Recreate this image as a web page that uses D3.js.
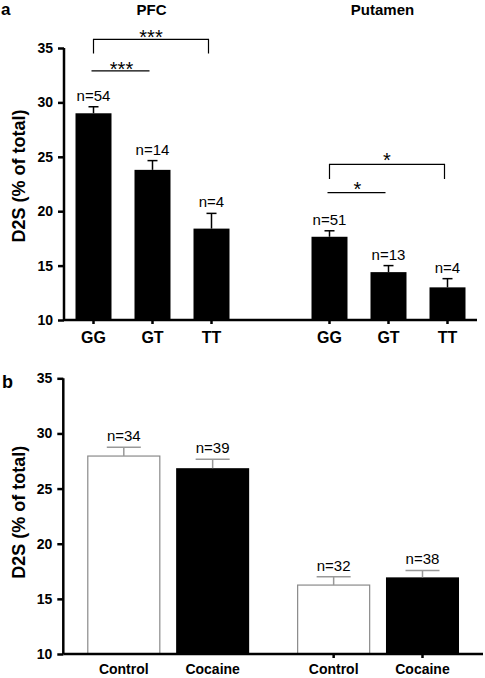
<!DOCTYPE html>
<html>
<head>
<meta charset="utf-8">
<script src="https://cdn.jsdelivr.net/npm/d3@7"></script>
<style>
  html, body { margin: 0; padding: 0; background: #fff; }
  text { font-family: "Liberation Sans", Arial, Helvetica, sans-serif; }
</style>
</head>
<body>
<svg id="chart" width="485" height="678"></svg>
<script>
// ---------- Data ----------
const genotypes = ["GG", "GT", "TT"];
const regions = ["PFC", "Putamen"];
const pfcMeans = [29.0, 23.8, 18.4];
const pfcSem = [0.6, 0.85, 1.4];
const pfcN = ["n=54", "n=14", "n=4"];
const putMeans = [17.65, 14.4, 13.0];
const putSem = [0.55, 0.6, 0.8];
const putN = ["n=51", "n=13", "n=4"];

const groupsB = ["Control", "Cocaine"];
const bPfcMeans = [27.95, 26.85];
const bPfcSem = [0.8, 0.8];
const bPfcN = ["n=34", "n=39"];
const bPutMeans = [16.25, 16.95];
const bPutSem = [0.75, 0.63];
const bPutN = ["n=32", "n=38"];

const yTicks = [10, 15, 20, 25, 30, 35];
// significance annotations: [region, fromGenotype, toGenotype, level, dropLevel, label]
const sigBrackets = [
  ["PFC", "GG", "TT", 35.8, 34.5, "***"],
  ["PFC", "GG", "GT", 32.9, null, "***"],
  ["Putamen", "GG", "TT", 24.3, 22.95, "*"],
  ["Putamen", "GG", "GT", 21.7, null, "*"]
];

// ---------- Setup ----------
const svg = d3.select("#chart");
const font = '"Liberation Sans", Arial, Helvetica, sans-serif';

// ================= Panel a =================
const slotsA = ["PFC-GG", "PFC-GT", "PFC-TT", "gap", "Putamen-GG", "Putamen-GT", "Putamen-TT"];
const xA = d3.scaleBand().domain(slotsA).range([64, 477]).paddingInner(0.39).paddingOuter(0.195);
const yA = d3.scaleLinear().domain([10, 35]).range([320, 48]);

const dataA = [];
genotypes.forEach((g, i) => dataA.push({ key: "PFC-" + g, g, mean: pfcMeans[i], sem: pfcSem[i], n: pfcN[i] }));
genotypes.forEach((g, i) => dataA.push({ key: "Putamen-" + g, g, mean: putMeans[i], sem: putSem[i], n: putN[i] }));

const gA = svg.append("g");

// bars
gA.selectAll("rect.bar").data(dataA).join("rect")
  .attr("x", d => xA(d.key))
  .attr("width", xA.bandwidth())
  .attr("y", d => yA(d.mean))
  .attr("height", d => yA(10) - yA(d.mean))
  .attr("fill", "#000");

// error bars
const cx = d => xA(d.key) + xA.bandwidth() / 2;
gA.selectAll("line.err").data(dataA).join("line")
  .attr("x1", cx).attr("x2", cx)
  .attr("y1", d => yA(d.mean)).attr("y2", d => yA(d.mean + d.sem))
  .attr("stroke", "#000").attr("stroke-width", 1.5);
gA.selectAll("line.cap").data(dataA).join("line")
  .attr("x1", d => cx(d) - 5).attr("x2", d => cx(d) + 5)
  .attr("y1", d => yA(d.mean + d.sem)).attr("y2", d => yA(d.mean + d.sem))
  .attr("stroke", "#000").attr("stroke-width", 1.5);

// n labels
gA.selectAll("text.n").data(dataA).join("text")
  .attr("x", cx)
  .attr("y", d => yA(d.mean + d.sem) - 6)
  .attr("text-anchor", "middle")
  .attr("font-size", 15)
  .text(d => d.n);

// y axis
const yAxisA = gA.append("g").attr("transform", "translate(64,0)")
  .call(d3.axisLeft(yA).tickValues(yTicks).tickSize(6).tickPadding(5));
yAxisA.select(".domain").attr("stroke-width", 2.5).attr("d", `M0,${yA(35)}V${yA(10)}`);
yAxisA.selectAll(".tick line").attr("stroke-width", 2.5);
yAxisA.selectAll(".tick text").attr("font-size", 14).attr("font-weight", "bold").attr("font-family", font).attr("fill", "#000");

// x axis
const xAxisA = gA.append("g").attr("transform", `translate(0,${yA(10)})`)
  .call(d3.axisBottom(xA).tickValues(slotsA.filter(s => s !== "gap")).tickSize(4).tickPadding(8)
    .tickFormat(s => s.split("-")[1]));
xAxisA.select(".domain").attr("stroke-width", 2.5).attr("d", "M64,0H477");
xAxisA.selectAll(".tick line").attr("stroke-width", 2.5);
xAxisA.selectAll(".tick text").attr("font-size", 16).attr("font-weight", "bold").attr("font-family", font).attr("fill", "#000");

// region titles
regions.forEach(r => {
  const k = r + "-GT";
  gA.append("text")
    .attr("x", xA(k) + xA.bandwidth() / 2 + (r === "PFC" ? -1 : -6))
    .attr("y", 15)
    .attr("text-anchor", "middle")
    .attr("font-size", 15)
    .attr("font-weight", "bold")
    .text(r);
});

// significance
sigBrackets.forEach(([r, a, b, lvl, drop, lab]) => {
  const x1 = xA(r + "-" + a) + xA.bandwidth() / 2;
  let x2 = xA(r + "-" + b) + xA.bandwidth() / 2;
  const y = yA(lvl);
  x2 -= 3;
  if (drop !== null) {
    gA.append("path")
      .attr("d", `M${x1},${yA(drop)}V${y}H${x2}V${yA(drop)}`)
      .attr("fill", "none").attr("stroke", "#000").attr("stroke-width", 1.2);
  } else {
    gA.append("line").attr("x1", x1 - 2).attr("x2", x2).attr("y1", y).attr("y2", y)
      .attr("stroke", "#000").attr("stroke-width", 1.2);
  }
  gA.append("text")
    .attr("x", (x1 + x2) / 2)
    .attr("y", y + (r === "PFC" ? 5 : 3))
    .attr("text-anchor", "middle")
    .attr("font-size", 20)
    .text(lab);
});

// panel label + y title
svg.append("text").attr("x", 1).attr("y", 15).attr("font-size", 17).attr("font-weight", "bold").text("a");
svg.append("text")
  .attr("transform", `translate(25,${(yA(10) + yA(35)) / 2 - 8}) rotate(-90)`)
  .attr("text-anchor", "middle")
  .attr("font-size", 18)
  .attr("font-weight", "bold")
  .text("D2S (% of total)");

// ================= Panel b =================
const xB = d3.scaleBand().domain(regions).range([63.3, 483]);
const xBi = d3.scaleBand().domain(groupsB).range([0, xB.bandwidth()]).paddingInner(0.178).paddingOuter(0.27);
const yB = d3.scaleLinear().domain([10, 35]).range([654, 378.3]);

const dataB = [];
groupsB.forEach((g, i) => dataB.push({ r: "PFC", g, mean: bPfcMeans[i], sem: bPfcSem[i], n: bPfcN[i] }));
groupsB.forEach((g, i) => dataB.push({ r: "Putamen", g, mean: bPutMeans[i], sem: bPutSem[i], n: bPutN[i] }));

const gB = svg.append("g");
const bx = d => xB(d.r) + xBi(d.g);
const bcx = d => bx(d) + xBi.bandwidth() / 2;

gB.selectAll("rect.bar").data(dataB).join("rect")
  .attr("x", d => bx(d) + (d.g === "Control" ? 0.5 : 0))
  .attr("width", d => xBi.bandwidth() - (d.g === "Control" ? 1 : 0))
  .attr("y", d => yB(d.mean))
  .attr("height", d => yB(10) - yB(d.mean))
  .attr("fill", d => d.g === "Control" ? "#fff" : "#000")
  .attr("stroke", d => d.g === "Control" ? "#8a8a8a" : "none")
  .attr("stroke-width", 1.2);

gB.selectAll("line.err").data(dataB).join("line")
  .attr("x1", bcx).attr("x2", bcx)
  .attr("y1", d => yB(d.mean)).attr("y2", d => yB(d.mean + d.sem))
  .attr("stroke", "#999").attr("stroke-width", 1.5);
gB.selectAll("line.cap").data(dataB).join("line")
  .attr("x1", d => bcx(d) - 17).attr("x2", d => bcx(d) + 17)
  .attr("y1", d => yB(d.mean + d.sem)).attr("y2", d => yB(d.mean + d.sem))
  .attr("stroke", "#999").attr("stroke-width", 1.5);

gB.selectAll("text.n").data(dataB).join("text")
  .attr("x", bcx)
  .attr("y", d => yB(d.mean + d.sem) - 6)
  .attr("text-anchor", "middle")
  .attr("font-size", 15)
  .text(d => d.n);

const yAxisB = gB.append("g").attr("transform", "translate(63.3,0)")
  .call(d3.axisLeft(yB).tickValues(yTicks).tickSize(6).tickPadding(5));
yAxisB.select(".domain").attr("stroke-width", 2.5).attr("d", `M0,${yB(35)}V${yB(10)}`);
yAxisB.selectAll(".tick line").attr("stroke-width", 2.5);
yAxisB.selectAll(".tick text").attr("font-size", 14).attr("font-weight", "bold").attr("font-family", font).attr("fill", "#000");

// x axis line
gB.append("line").attr("x1", 63.3).attr("x2", 483).attr("y1", yB(10)).attr("y2", yB(10))
  .attr("stroke", "#000").attr("stroke-width", 2.5);
// ticks (visible under the right-hand group)
gB.selectAll("line.xt").data(dataB.filter(d => d.r === "Putamen")).join("line")
  .attr("x1", bcx).attr("x2", bcx)
  .attr("y1", yB(10)).attr("y2", yB(10) + 4)
  .attr("stroke", "#000").attr("stroke-width", 2.5);
gB.selectAll("text.xl").data(dataB).join("text")
  .attr("x", bcx)
  .attr("y", yB(10) + 20)
  .attr("text-anchor", "middle")
  .attr("font-size", 14)
  .attr("font-weight", "bold")
  .text(d => d.g);

svg.append("text").attr("x", 2).attr("y", 388).attr("font-size", 18).attr("font-weight", "bold").text("b");
svg.append("text")
  .attr("transform", `translate(25,${(yB(10) + yB(35)) / 2 - 4}) rotate(-90)`)
  .attr("text-anchor", "middle")
  .attr("font-size", 18)
  .attr("font-weight", "bold")
  .text("D2S (% of total)");
</script>
</body>
</html>
